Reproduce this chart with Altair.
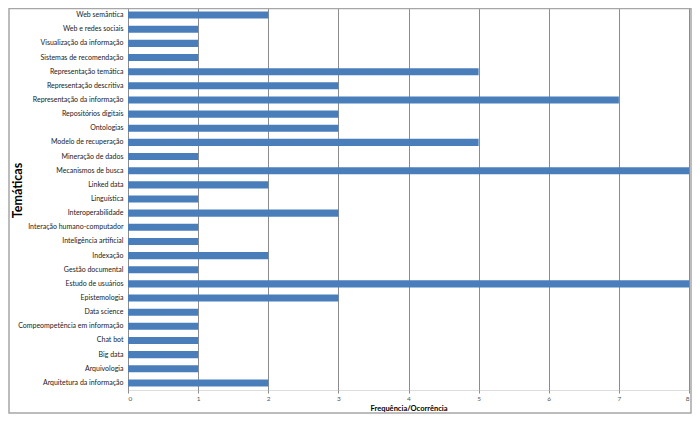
import altair as alt
import pandas as pd

categories = [
    "Web semântica", "Web e redes sociais", "Visualização da informação",
    "Sistemas de recomendação", "Representação temática", "Representação descritiva",
    "Representação da informação", "Repositórios digitais", "Ontologias",
    "Modelo de recuperação", "Mineração de dados", "Mecanismos de busca",
    "Linked data", "Linguística", "Interoperabilidade",
    "Interação humano-computador", "Inteligência artificial", "Indexação",
    "Gestão documental", "Estudo de usuários", "Epistemologia", "Data science",
    "Compeompetência em informação", "Chat bot", "Big data", "Arquivologia",
    "Arquitetura da informação",
]
values = [2, 1, 1, 1, 5, 3, 7, 3, 3, 5, 1, 8, 2, 1, 3, 1, 1, 2, 1, 8, 3, 1, 1, 1, 1, 1, 2]
x_ticks = [0, 1, 2, 3, 4, 5, 6, 7, 8]

df = pd.DataFrame({"tema": categories, "freq": values})

FONT = "Lato"
GRID = "#8c8c8c"

bars = alt.Chart(df).mark_bar(color="#4A7EBB").encode(
    x=alt.X(
        "freq:Q",
        scale=alt.Scale(domain=[0, 8], nice=False, zero=True),
        axis=alt.Axis(
            values=x_ticks, format="d", title="Frequência/Ocorrência",
            grid=True, gridColor=GRID, gridWidth=1, domain=False,
            ticks=True, tickSize=3, tickColor=GRID,
            labelFontSize=6.5, labelColor="#555555", labelPadding=2,
            labelFont=FONT, titleFont=FONT, titleFontSize=7.5,
            titleFontWeight="bold", titleColor="#000000", titlePadding=3,
        ),
    ),
    y=alt.Y(
        "tema:N", sort=categories,
        scale=alt.Scale(paddingInner=0.5, paddingOuter=0.25),
        axis=alt.Axis(
            title="Temáticas", ticks=False, domain=True, domainColor=GRID,
            domainWidth=1, labelPadding=5, labelFont=FONT, labelFontSize=7,
            labelColor="#1a1a1a", grid=False,
            titleFont=FONT, titleFontSize=12.5, titleFontWeight="bold",
            titleColor="#000000", titleX=-111, titleY=182, titleAngle=270,
            titleAlign="center", titleBaseline="middle",
        ),
    ),
)

border = alt.Chart(alt.Data(values=[{"a": 1}])).mark_rect(
    fill=None, stroke="#a6a6a6", strokeWidth=1.5
).encode(
    x=alt.value(-119), x2=alt.value(563),
    y=alt.value(0.5), y2=alt.value(405),
)

chart = alt.layer(border, bars).properties(
    width=561, height=382,
    autosize=alt.AutoSizeParams(type="none"),
    padding={"left": 120, "top": 0, "right": 3, "bottom": 24},
).configure_view(stroke=None).configure(background="white")

chart.save("out.html", embed_options={"renderer": "svg", "actions": False})
